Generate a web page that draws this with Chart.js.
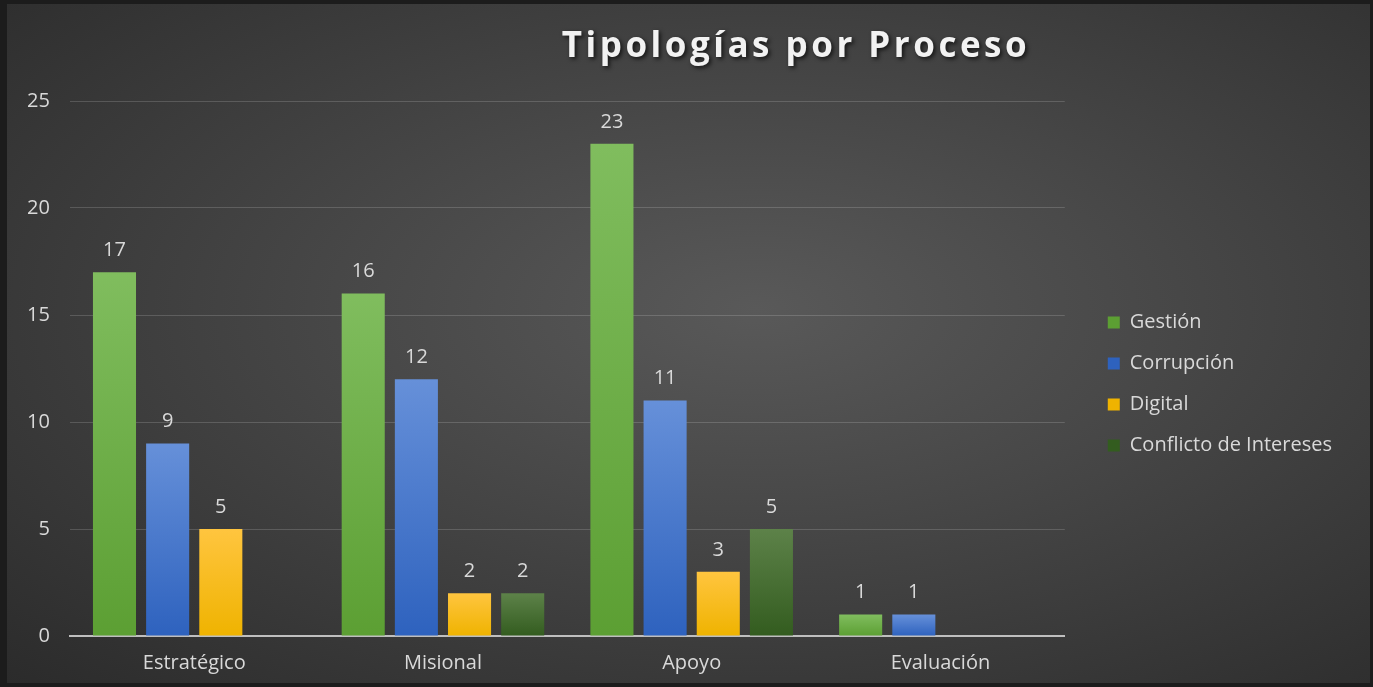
<!DOCTYPE html>
<html>
<head>
<meta charset="utf-8">
<script src="https://cdn.jsdelivr.net/npm/chart.js@4.4.0/dist/chart.umd.min.js"></script>
<style>
  html, body { margin: 0; padding: 0; background: #1c1c1c; }
  #wrap {
    position: absolute; left: 7px; top: 4px; width: 1363px; height: 679px;
    background: radial-gradient(ellipse at 55% 45%, #595959 0%, #474747 40%, #2b2b2b 100%);
  }
</style>
</head>
<body>
<div id="wrap"><canvas id="chart"></canvas></div>
<script>
const categories = ['Estratégico', 'Misional', 'Apoyo', 'Evaluación'];
const seriesNames = ['Gestión', 'Corrupción', 'Digital', 'Conflicto de Intereses'];
const gestion = [17, 16, 23, 1];
const corrupcion = [9, 12, 11, 1];
const digital = [5, 2, 3, null];
const conflicto = [null, 2, 5, null];
const yTicks = [0, 5, 10, 15, 20, 25];

// top / bottom colour of each bar gradient
const colors = [
  ['#80bd5e', '#5c9f33'],
  ['#6690d9', '#2e62be'],
  ['#ffc53f', '#efb300'],
  ['#5d8249', '#335c1f']
];

const canvas = document.getElementById('chart');
const ctx = canvas.getContext('2d');

function barGradient(i) {
  return function(context) {
    const chart = context.chart;
    const y = chart.scales.y;
    if (!chart.chartArea || !y || context.raw == null) return colors[i][1];
    const top = y.getPixelForValue(context.raw);
    const bottom = y.getPixelForValue(0);
    const g = chart.ctx.createLinearGradient(0, top, 0, bottom);
    g.addColorStop(0, colors[i][0]);
    g.addColorStop(1, colors[i][1]);
    return g;
  };
}

// value labels above the bars
const valueLabels = {
  id: 'valueLabels',
  afterDatasetsDraw(chart) {
    const c = chart.ctx;
    c.save();
    c.font = '20px "Open Sans"';
    c.fillStyle = '#d9d9d9';
    c.textAlign = 'center';
    c.textBaseline = 'bottom';
    chart.data.datasets.forEach((ds, di) => {
      chart.getDatasetMeta(di).data.forEach((bar, idx) => {
        if (ds.data[idx] == null) return;
        c.fillText(ds.data[idx], bar.x, bar.y - 12);
      });
    });
    c.restore();
  }
};

// title with soft shadow
const shadowTitle = {
  id: 'shadowTitle',
  afterDraw(chart) {
    const c = chart.ctx;
    c.save();
    c.font = 'bold 35px "Open Sans"';
    c.letterSpacing = '3.5px';
    c.textAlign = 'center';
    c.textBaseline = 'middle';
    c.shadowColor = 'rgba(0,0,0,0.7)';
    c.shadowBlur = 4;
    c.shadowOffsetX = 2;
    c.shadowOffsetY = 2;
    c.fillStyle = '#f2f2f2';
    c.fillText('Tipologías por Proceso', 789, 43);
    c.restore();
  }
};

// nudge the legend up a little
const legendShift = {
  id: 'legendShift',
  afterLayout(chart) {
    if (chart.legend) {
      chart.legend.top -= 8;
      chart.legend.bottom -= 8;
    }
  }
};

const datasets = [gestion, corrupcion, digital, conflicto].map((d, i) => ({
  label: seriesNames[i],
  data: d,
  backgroundColor: barGradient(i),
  borderWidth: 0,
  categoryPercentage: 0.855,
  barPercentage: 0.81
}));

new Chart(ctx, {
  type: 'bar',
  data: { labels: categories, datasets: datasets },
  options: {
    responsive: true,
    maintainAspectRatio: false,
    animation: false,
    layout: { padding: { top: 97, left: 0, right: 28, bottom: 0 } },
    plugins: {
      title: { display: false },
      tooltip: { enabled: false },
      legend: {
        position: 'right',
        maxWidth: 320,
        labels: {
          color: '#d9d9d9',
          font: { family: 'Open Sans', size: 20 },
          boxWidth: 12,
          boxHeight: 12,
          padding: 21,
          generateLabels(chart) {
            return seriesNames.map((n, i) => ({
              text: n,
              fillStyle: colors[i][1],
              strokeStyle: colors[i][1],
              lineWidth: 0,
              fontColor: '#d9d9d9',
              datasetIndex: i
            }));
          }
        }
      }
    },
    scales: {
      x: {
        grid: { display: false, drawTicks: false },
        border: { display: true, color: '#bfbfbf', width: 2 },
        ticks: { color: '#d9d9d9', font: { family: 'Open Sans', size: 20 }, padding: 15 },
        afterFit(scale) { scale.height = 47; }
      },
      y: {
        min: 0,
        max: 25,
        afterBuildTicks(axis) { axis.ticks = yTicks.map(v => ({ value: v })); },
        grid: { color: 'rgba(255,255,255,0.16)', lineWidth: 1, drawTicks: false },
        border: { display: false },
        ticks: { color: '#d9d9d9', font: { family: 'Open Sans', size: 20 }, padding: 20 }
      },
      // empty spacer between plot and legend
      gap: {
        position: 'right',
        grid: { display: false, drawTicks: false },
        border: { display: false },
        ticks: { display: false },
        afterFit(scale) { scale.width = 22; }
      }
    }
  },
  plugins: [valueLabels, shadowTitle, legendShift]
});
</script>
</body>
</html>
